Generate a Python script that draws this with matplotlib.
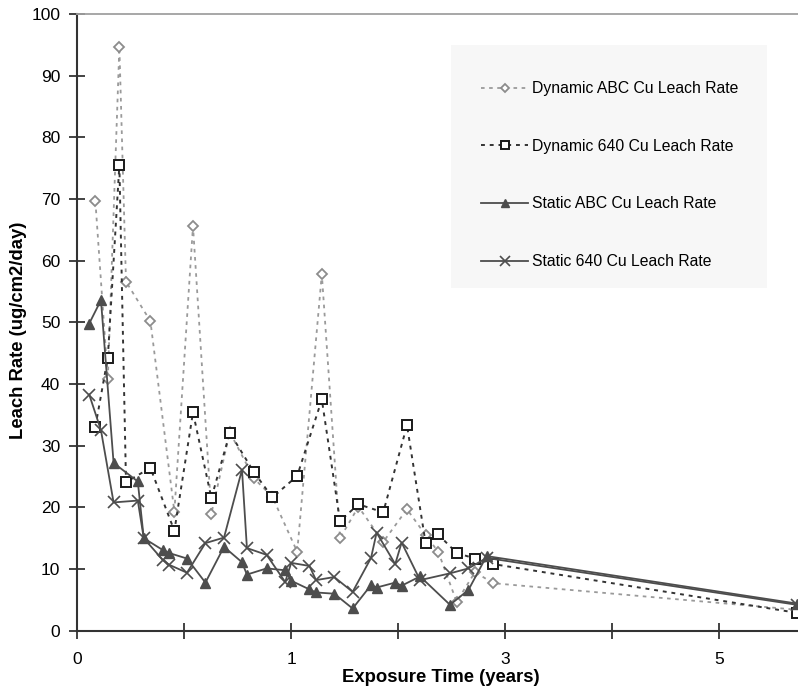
import matplotlib
matplotlib.use("Agg")
import matplotlib.pyplot as plt
from matplotlib.patches import Rectangle

plt.rcParams["font.family"] = ["Liberation Sans", "DejaVu Sans"]

# x positions on the (category-like) exposure axis; tick labels 0, 1, 3, 5 sit at 0, 1, 2, 3
static_x = [0.057, 0.112, 0.171, 0.284, 0.312, 0.400, 0.430, 0.514, 0.600, 0.687,
            0.771, 0.794, 0.886, 0.973, 1.001, 1.086, 1.117, 1.202, 1.288, 1.374,
            1.400, 1.487, 1.517, 1.603, 1.743, 1.829, 1.914, 3.364]
static_abc = [49.8, 53.6, 27.2, 24.2, 15.0, 13.1, 12.6, 11.7, 7.8, 13.6,
              11.1, 9.1, 10.1, 9.8, 8.1, 6.7, 6.2, 6.0, 3.6, 7.4,
              7.0, 7.8, 7.3, 8.8, 4.2, 6.6, 12.1, 4.4]
static_640 = [38.3, 32.5, 20.8, 21.1, 15.0, 11.5, 10.7, 9.4, 14.2, 15.1,
              26.1, 13.4, 12.3, 7.9, 11.0, 10.5, 8.2, 8.7, 6.3, 11.8,
              15.9, 10.8, 14.3, 8.2, 9.3, 10.1, 11.8, 4.2]

dyn_x = [0.086, 0.144, 0.198, 0.229, 0.343, 0.455, 0.542, 0.628, 0.714, 0.827,
         0.913, 1.029, 1.144, 1.229, 1.315, 1.431, 1.542, 1.629, 1.688, 1.774,
         1.860, 1.945, 3.364]
dyn_abc = [69.6, 40.8, 94.6, 56.6, 50.2, 19.3, 65.6, 19.0, 32.2, 24.7,
           21.7, 12.8, 57.8, 15.0, 20.1, 14.4, 19.7, 15.5, 12.8, 4.7,
           9.5, 7.7, 3.4]
dyn_640 = [33.1, 44.3, 75.5, 24.1, 26.4, 16.2, 35.4, 21.5, 32.1, 25.7,
           21.6, 25.1, 37.5, 17.8, 20.5, 19.2, 33.3, 14.2, 15.6, 12.6,
           11.7, 10.8, 2.9]

x_tick_pos = [0, 0.5, 1, 1.5, 2, 2.5, 3]
x_tick_labels = ["0", "", "1", "", "3", "", "5"]

W, H = 798, 691
fig = plt.figure(figsize=(W / 100, H / 100), dpi=100)
ax = fig.add_axes([77 / W, 1 - 630.7 / H, (W - 77) / W, (630.7 - 14) / H])

# legend background box (pixel coords of the original)
fig.patches.append(Rectangle((451 / W, 1 - 288 / H), (767 - 451) / W, (288 - 45) / H,
                             transform=fig.transFigure, facecolor="#f7f7f7",
                             edgecolor="none", zorder=0))
ax.set_facecolor("none")

ax.plot(dyn_x, dyn_abc, color="#9a9a9a", lw=1.3, ls=(0, (2, 2.5)), marker="D",
        ms=5, mfc="white", mec="#8c8c8c", mew=1.3, label="Dynamic ABC Cu Leach Rate")
ax.plot(dyn_x, dyn_640, color="#333333", lw=1.4, ls=(0, (2, 2.5)), marker="s",
        ms=7.5, mfc="white", mec="#1a1a1a", mew=1.4, label="Dynamic 640 Cu Leach Rate")
ax.plot(static_x, static_abc, color="#4d4d4d", lw=1.3, marker="^",
        ms=7.5, mfc="#4d4d4d", mec="#4d4d4d", label="Static ABC Cu Leach Rate")
ax.plot(static_x, static_640, color="#4d4d4d", lw=1.3, marker="x",
        ms=8, mec="#4d4d4d", mew=1.2, label="Static 640 Cu Leach Rate")

ax.set_xlim(0, (W - 77) / 214)
ax.set_ylim(0, 100)
ax.set_yticks(range(0, 101, 10))
ax.set_xticks(x_tick_pos)
ax.set_xticklabels(x_tick_labels)
ax.tick_params(axis="y", direction="inout", length=11, width=1.2, pad=6.5,
               labelsize=12.5, colors="#222222", labelcolor="black")
ax.tick_params(axis="x", direction="inout", length=12, width=1.2, pad=9,
               labelsize=12.5, colors="#222222", labelcolor="black")

for side in ["left", "bottom"]:
    ax.spines[side].set_color("#333333")
    ax.spines[side].set_linewidth(1.5)
ax.spines["top"].set_color("#a0a0a0")
ax.spines["top"].set_linewidth(1.3)
ax.spines["right"].set_visible(False)

fig.text(441 / W, 1 - 678 / H, "Exposure Time (years)", ha="center", va="center",
         fontsize=13.3, fontweight="bold")
fig.text(19 / W, 1 - 330 / H, "Leach Rate (ug/cm2/day)", ha="center", va="center",
         rotation=90, fontsize=13.3, fontweight="bold")

leg = fig.legend(*ax.get_legend_handles_labels(), loc="upper left",
                 bbox_to_anchor=(481 / W, 1 - 81 / H), fontsize=11.3, frameon=False,
                 labelspacing=2.72, handlelength=3.0, handletextpad=0.25,
                 borderpad=0, borderaxespad=0, markerscale=0.85)

fig.savefig("out.png", dpi=100)
